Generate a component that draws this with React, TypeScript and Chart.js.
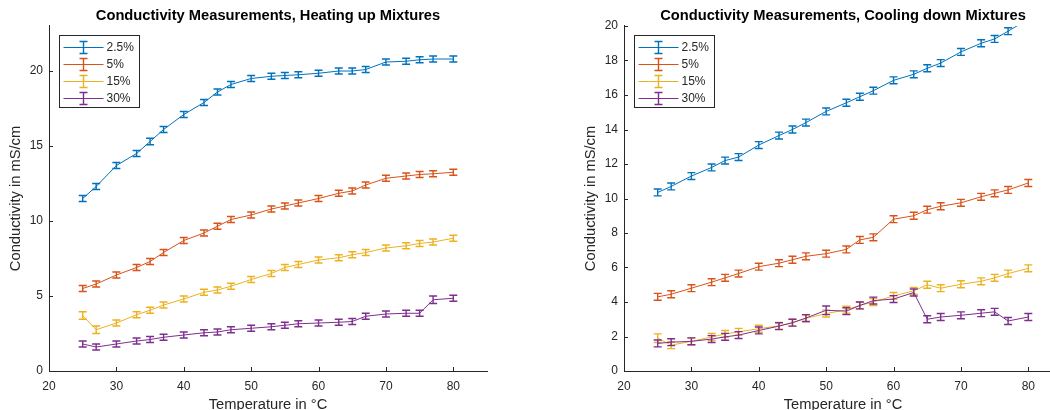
import { useEffect, useRef } from "react";
import { Chart, registerables } from "chart.js";

Chart.register(...registerables);

// Measurement temperatures in °C (shared by both runs)
const temperatures = [25, 27, 30, 33, 35, 37, 40, 43, 45, 47, 50, 53, 55, 57, 60, 63, 65, 67, 70, 73, 75, 77, 80];

const seriesLabels = ["2.5%", "5%", "15%", "30%"];
const seriesColors = ["#0072BD", "#D95319", "#EDB120", "#7E2F8E"];

// Heating run: conductivity in mS/cm
const heat2p5 = [11.5, 12.3, 13.7, 14.5, 15.3, 16.1, 17.1, 17.9, 18.6, 19.1, 19.5, 19.65, 19.7, 19.75, 19.85, 20.0, 20.0, 20.1, 20.6, 20.65, 20.75, 20.8, 20.8];
const heat5 = [5.5, 5.8, 6.4, 6.9, 7.3, 7.9, 8.7, 9.2, 9.65, 10.1, 10.4, 10.8, 11.0, 11.2, 11.5, 11.85, 12.0, 12.4, 12.85, 13.0, 13.1, 13.15, 13.25];
const heat15 = [3.7, 2.75, 3.2, 3.75, 4.05, 4.4, 4.8, 5.25, 5.4, 5.65, 6.1, 6.5, 6.9, 7.1, 7.4, 7.55, 7.75, 7.9, 8.2, 8.35, 8.5, 8.6, 8.85];
const heat30 = [1.8, 1.6, 1.8, 2.0, 2.1, 2.25, 2.4, 2.55, 2.6, 2.75, 2.85, 2.95, 3.05, 3.15, 3.2, 3.25, 3.3, 3.65, 3.8, 3.85, 3.85, 4.75, 4.85];

// Heating run: standard deviation of each reading
const heatErr2p5 = [0.2, 0.2, 0.2, 0.2, 0.22, 0.2, 0.2, 0.2, 0.2, 0.2, 0.2, 0.2, 0.2, 0.2, 0.2, 0.2, 0.2, 0.2, 0.2, 0.2, 0.2, 0.2, 0.2];
const heatErr5 = [0.2, 0.2, 0.2, 0.2, 0.2, 0.2, 0.2, 0.2, 0.2, 0.2, 0.2, 0.2, 0.2, 0.2, 0.2, 0.2, 0.2, 0.2, 0.2, 0.2, 0.2, 0.2, 0.2];
const heatErr15 = [0.25, 0.25, 0.2, 0.2, 0.2, 0.2, 0.2, 0.2, 0.2, 0.2, 0.2, 0.2, 0.2, 0.2, 0.2, 0.2, 0.2, 0.2, 0.2, 0.2, 0.2, 0.2, 0.2];
const heatErr30 = [0.2, 0.2, 0.2, 0.2, 0.2, 0.2, 0.2, 0.2, 0.2, 0.2, 0.2, 0.2, 0.2, 0.2, 0.2, 0.2, 0.2, 0.2, 0.2, 0.2, 0.2, 0.25, 0.2];

// Cooling run: conductivity in mS/cm
const cool2p5 = [10.35, 10.7, 11.3, 11.8, 12.2, 12.4, 13.1, 13.65, 14.0, 14.4, 15.05, 15.55, 15.9, 16.25, 16.85, 17.2, 17.55, 17.85, 18.5, 19.0, 19.25, 19.7, 20.4];
const cool5 = [4.3, 4.45, 4.8, 5.15, 5.4, 5.65, 6.05, 6.25, 6.45, 6.65, 6.8, 7.05, 7.6, 7.75, 8.8, 9.0, 9.35, 9.55, 9.75, 10.1, 10.3, 10.5, 10.9];
const cool15 = [1.9, 1.5, 1.72, 1.97, 2.15, 2.27, 2.45, 2.62, 2.8, 3.05, 3.33, 3.55, 3.8, 4.0, 4.35, 4.65, 5.0, 4.8, 5.03, 5.2, 5.4, 5.65, 5.95];
const cool30 = [1.6, 1.67, 1.72, 1.85, 1.98, 2.08, 2.35, 2.6, 2.8, 3.07, 3.52, 3.47, 3.8, 4.08, 4.17, 4.55, 3.0, 3.13, 3.23, 3.35, 3.43, 2.9, 3.13];

// Cooling run: standard deviation of each reading
const coolErr2p5 = [0.2, 0.2, 0.2, 0.2, 0.2, 0.2, 0.2, 0.2, 0.2, 0.2, 0.2, 0.2, 0.2, 0.2, 0.2, 0.2, 0.2, 0.2, 0.2, 0.2, 0.2, 0.2, 0.2];
const coolErr5 = [0.2, 0.2, 0.2, 0.2, 0.2, 0.2, 0.2, 0.2, 0.2, 0.2, 0.2, 0.2, 0.2, 0.2, 0.2, 0.2, 0.2, 0.2, 0.2, 0.2, 0.2, 0.2, 0.2];
const coolErr15 = [0.25, 0.2, 0.2, 0.2, 0.2, 0.2, 0.2, 0.2, 0.2, 0.2, 0.2, 0.2, 0.2, 0.2, 0.2, 0.2, 0.2, 0.2, 0.2, 0.2, 0.2, 0.2, 0.2];
const coolErr30 = [0.2, 0.2, 0.2, 0.2, 0.2, 0.2, 0.2, 0.2, 0.2, 0.2, 0.25, 0.2, 0.2, 0.2, 0.2, 0.2, 0.2, 0.2, 0.2, 0.2, 0.2, 0.2, 0.2];

// Axis ticks
const xTickValues = [20, 30, 40, 50, 60, 70, 80];
const heatYTickValues = [0, 5, 10, 15, 20];
const coolYTickValues = [0, 2, 4, 6, 8, 10, 12, 14, 16, 18, 20];

const FONT = "'Liberation Sans', Arial, Helvetica, sans-serif";
const AXIS_COLOR = "#262626";

// Vertical error bars with caps, drawn right after each series' line
const errorBarPlugin = {
  id: "errorBars",
  afterDatasetDraw(chart: any, args: any) {
    const ds = chart.data.datasets[args.index];
    const errs: number[] = ds.errors;
    if (!errs) return;
    const { ctx, chartArea } = chart;
    const yScale = chart.scales.y;
    ctx.save();
    ctx.beginPath();
    ctx.rect(chartArea.left, chartArea.top - 1, chartArea.right - chartArea.left, chartArea.bottom - chartArea.top + 2);
    ctx.clip();
    ctx.strokeStyle = ds.borderColor;
    ctx.lineWidth = 1.4;
    args.meta.data.forEach((pt: any, i: number) => {
      const v = ds.data[i].y;
      const e = errs[i];
      const x = pt.x;
      const yTop = yScale.getPixelForValue(v + e);
      const yBot = yScale.getPixelForValue(v - e);
      ctx.beginPath();
      ctx.moveTo(x, yTop);
      ctx.lineTo(x, yBot);
      ctx.moveTo(x - 4, yTop);
      ctx.lineTo(x + 4, yTop);
      ctx.moveTo(x - 4, yBot);
      ctx.lineTo(x + 4, yBot);
      ctx.stroke();
    });
    ctx.restore();
  },
};

// Short tick marks pointing into the plot area
const inwardTicksPlugin = {
  id: "inwardTicks",
  afterDraw(chart: any) {
    const { ctx, chartArea } = chart;
    const xs = chart.scales.x;
    const ys = chart.scales.y;
    ctx.save();
    ctx.strokeStyle = AXIS_COLOR;
    ctx.lineWidth = 1;
    ctx.beginPath();
    xs.ticks.forEach((t: any) => {
      const px = Math.round(xs.getPixelForValue(t.value)) + 0.5;
      ctx.moveTo(px, chartArea.bottom);
      ctx.lineTo(px, chartArea.bottom - 4);
    });
    ys.ticks.forEach((t: any) => {
      const py = Math.round(ys.getPixelForValue(t.value)) + 0.5;
      ctx.moveTo(chartArea.left, py);
      ctx.lineTo(chartArea.left + 4, py);
    });
    ctx.stroke();
    ctx.restore();
  },
};

// Boxed legend in the upper-left corner of the plot, with error-bar symbols
const boxLegendPlugin = {
  id: "boxLegend",
  afterDraw(chart: any) {
    const { ctx, chartArea } = chart;
    const left = Math.round(chartArea.left + 10) + 0.5;
    const top = Math.round(chartArea.top + 9) + 0.5;
    const width = 80;
    const height = 72;
    ctx.save();
    ctx.fillStyle = "#ffffff";
    ctx.fillRect(left, top, width, height);
    ctx.strokeStyle = AXIS_COLOR;
    ctx.lineWidth = 1;
    ctx.strokeRect(left, top, width, height);
    ctx.font = `12px ${FONT}`;
    ctx.textBaseline = "middle";
    ctx.textAlign = "left";
    chart.data.datasets.forEach((ds: any, i: number) => {
      const cy = Math.round(top + 11 + i * 17.2) + 0.5;
      const cx = left + 24;
      ctx.strokeStyle = ds.borderColor;
      ctx.lineWidth = 1;
      ctx.beginPath();
      ctx.moveTo(left + 4, cy);
      ctx.lineTo(left + 44, cy);
      ctx.stroke();
      ctx.lineWidth = 1.4;
      ctx.beginPath();
      ctx.moveTo(cx, cy - 6);
      ctx.lineTo(cx, cy + 6);
      ctx.moveTo(cx - 4, cy - 6);
      ctx.lineTo(cx + 4, cy - 6);
      ctx.moveTo(cx - 4, cy + 6);
      ctx.lineTo(cx + 4, cy + 6);
      ctx.stroke();
      ctx.fillStyle = AXIS_COLOR;
      ctx.fillText(ds.label, left + 47, cy + 0.5);
    });
    ctx.restore();
  },
};

function buildDatasets(values: number[][], errors: number[][]) {
  return values.map((vals, i) => ({
    label: seriesLabels[i],
    data: temperatures.map((t, j) => ({ x: t, y: vals[j] })),
    errors: errors[i],
    borderColor: seriesColors[i],
    backgroundColor: seriesColors[i],
    borderWidth: 1,
    pointRadius: 0,
    tension: 0,
    order: 4 - i,
  }));
}

function buildConfig(opts: {
  title: string;
  values: number[][];
  errors: number[][];
  yMax: number;
  yTicks: number[];
  padLeft: number;
  padRight: number;
}): any {
  const tickFont = { family: FONT, size: 12 };
  const labelFont = { family: FONT, size: 14.7, lineHeight: 1.2 };
  return {
    type: "line",
    data: { datasets: buildDatasets(opts.values, opts.errors) },
    options: {
      responsive: false,
      animation: false,
      devicePixelRatio: 1,
      layout: { padding: { left: opts.padLeft, right: opts.padRight, top: 0, bottom: 0 } },
      plugins: {
        legend: { display: false },
        tooltip: { enabled: false },
        title: {
          display: true,
          text: opts.title,
          color: "#000000",
          fullSize: false,
          font: { family: FONT, size: 14.7, weight: "bold", lineHeight: 1.2 },
          padding: { top: 7.4, bottom: 0.96 },
        },
      },
      scales: {
        x: {
          type: "linear",
          min: 20,
          max: 85,
          afterBuildTicks: (s: any) => {
            s.ticks = xTickValues.map((v) => ({ value: v }));
          },
          afterFit: (s: any) => {
            s.height = 49;
          },
          grid: { display: false, drawTicks: false },
          border: { display: true, color: AXIS_COLOR, width: 1 },
          ticks: { font: tickFont, color: AXIS_COLOR, padding: 8, autoSkip: false, maxRotation: 0, includeBounds: false },
          title: {
            display: true,
            text: "Temperature in °C",
            font: labelFont,
            color: AXIS_COLOR,
            padding: { top: 0, bottom: 5.8 },
          },
        },
        y: {
          type: "linear",
          min: 0,
          max: opts.yMax,
          afterBuildTicks: (s: any) => {
            s.ticks = opts.yTicks.map((v) => ({ value: v }));
          },
          afterFit: (s: any) => {
            s.width = 49;
          },
          grid: { display: false, drawTicks: false },
          border: { display: true, color: AXIS_COLOR, width: 1 },
          ticks: { font: tickFont, color: AXIS_COLOR, padding: 6, autoSkip: false, includeBounds: false },
          title: {
            display: true,
            text: "Conductivity in mS/cm",
            font: labelFont,
            color: AXIS_COLOR,
            padding: { top: 7.6, bottom: 0 },
          },
        },
      },
    },
    plugins: [errorBarPlugin, inwardTicksPlugin, boxLegendPlugin],
  };
}

export default function App() {
  const heatRef = useRef<HTMLCanvasElement | null>(null);
  const coolRef = useRef<HTMLCanvasElement | null>(null);

  useEffect(() => {
    if (!heatRef.current || !coolRef.current) return;
    const heatChart = new Chart(
      heatRef.current,
      buildConfig({
        title: "Conductivity Measurements, Heating up Mixtures",
        values: [heat2p5, heat5, heat15, heat30],
        errors: [heatErr2p5, heatErr5, heatErr15, heatErr30],
        yMax: 23,
        yTicks: heatYTickValues,
        padLeft: 0,
        padRight: 33,
      })
    );
    const coolChart = new Chart(
      coolRef.current,
      buildConfig({
        title: "Conductivity Measurements, Cooling down Mixtures",
        values: [cool2p5, cool5, cool15, cool30],
        errors: [coolErr2p5, coolErr5, coolErr15, coolErr30],
        yMax: 20,
        yTicks: coolYTickValues,
        padLeft: 45,
        padRight: 8,
      })
    );
    return () => {
      heatChart.destroy();
      coolChart.destroy();
    };
  }, []);

  return (
    <div
      style={{
        position: "absolute",
        left: 0,
        top: 0,
        width: 1050,
        height: 410,
        overflow: "hidden",
        background: "#ffffff",
      }}
    >
      <canvas ref={heatRef} width={520} height={420} style={{ position: "absolute", left: 0, top: 0 }} />
      <canvas ref={coolRef} width={540} height={420} style={{ position: "absolute", left: 530, top: 0 }} />
    </div>
  );
}
